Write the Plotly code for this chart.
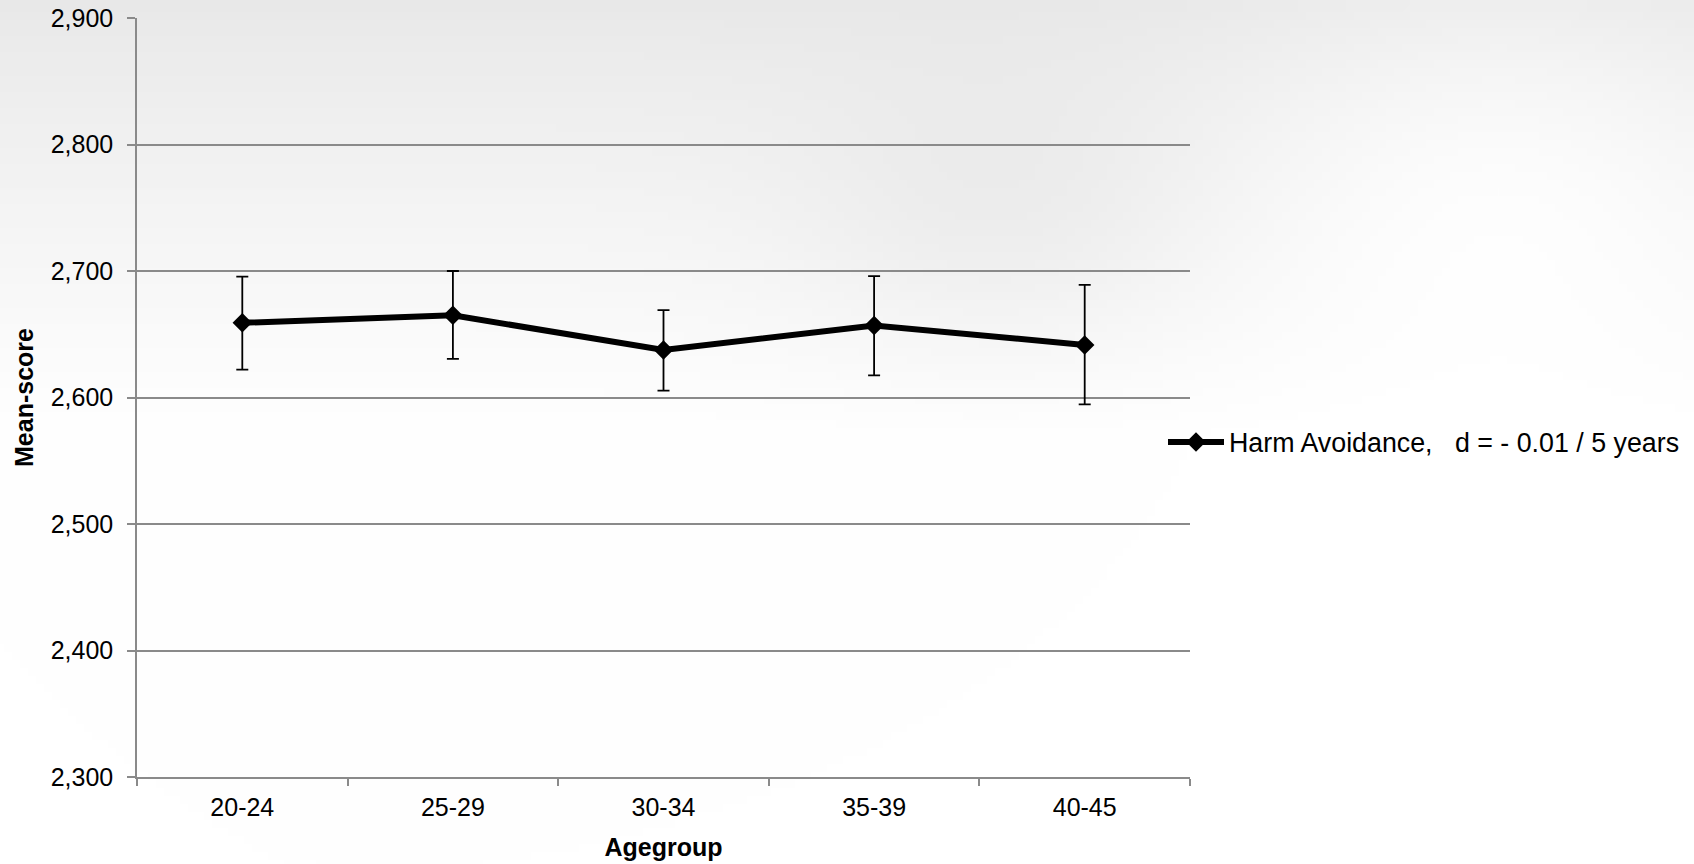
import zlib, struct, base64
import numpy as np
import plotly.graph_objects as go

# ---- data ----
agegroups = ["20-24", "25-29", "30-34", "35-39", "40-45"]
mean_score = [2659, 2665, 2637.5, 2657, 2641.5]
err_plus = [36.5, 35, 31.5, 39, 47.5]
err_minus = [37, 34.5, 32, 39.5, 47]
y_ticks = [2300, 2400, 2500, 2600, 2700, 2800, 2900]
series_name = "Harm Avoidance,\u00a0\u00a0\u00a0d = - 0.01 / 5 years"

# ---- geometry ----
W, H = 1694, 864
ML, MR, MT, MB = 137, 504, 18, 87
PW, PH = W - ML - MR, H - MT - MB

# ---- soft grey background (gradient, like the splash backdrop) ----
def make_png(arr):
    h, w = arr.shape
    raw = b"".join(b"\x00" + arr[i].astype(np.uint8).tobytes() for i in range(h))
    def chunk(t, d):
        c = struct.pack(">I", len(d)) + t + d
        return c + struct.pack(">I", zlib.crc32(t + d) & 0xffffffff)
    return (b"\x89PNG\r\n\x1a\n" + chunk(b"IHDR", struct.pack(">IIBBBBB", w, h, 8, 0, 0, 0, 0))
            + chunk(b"IDAT", zlib.compress(raw)) + chunk(b"IEND", b""))

gh, gw = 108, 212
yy = np.linspace(0, H, gh)[:, None]
xx = np.linspace(0, W, gw)[None, :]
t = np.clip(yy / 430.0, 0, 1)
base = 233 + 22 * t ** 0.9
bright = 10 * np.exp(-(((xx - 1500) / 260) ** 2 + ((yy - 150) / 200) ** 2))
darker = -8 * np.exp(-(((xx - 1000) / 200) ** 2 + ((yy - 220) / 140) ** 2))
img = np.clip(base + bright + darker + 0 * xx, 0, 255)
uri = "data:image/png;base64," + base64.b64encode(make_png(img)).decode()

fig = go.Figure()
fig.add_trace(go.Scatter(
    x=agegroups, y=mean_score, mode="lines+markers", name=series_name,
    line=dict(color="black", width=6),
    marker=dict(symbol="diamond", size=15, color="black"),
    error_y=dict(type="data", symmetric=False, array=err_plus, arrayminus=err_minus,
                 color="black", thickness=1.8, width=6),
))

font = "Liberation Sans, Arial, sans-serif"
fig.update_layout(
    width=W, height=H,
    margin=dict(l=ML, r=MR, t=MT, b=MB, autoexpand=False),
    paper_bgcolor="white", plot_bgcolor="rgba(0,0,0,0)",
    font=dict(family=font, size=25, color="black"),
    showlegend=True,
    legend=dict(x=(1163 - ML) / PW, xanchor="left", y=(H - MB - 442) / PH, yanchor="middle",
                bgcolor="rgba(0,0,0,0)", font=dict(size=26.8), itemwidth=56),
    images=[dict(source=uri, xref="paper", yref="paper", x=-ML / PW, y=1 + MT / PH,
                 sizex=W / PW, sizey=H / PH, xanchor="left", yanchor="top",
                 sizing="stretch", layer="below", opacity=1)],
)
fig.update_xaxes(
    type="category", range=[-0.5, 4.5], automargin=False,
    showline=True, linecolor="#8a8a8a", linewidth=1.5,
    ticks="outside", tickson="boundaries", ticklen=7, tickcolor="#8a8a8a", tickwidth=1.5,
    ticklabelstandoff=7,
    showgrid=False, zeroline=False,
    tickfont=dict(size=25),
    title=dict(text="<b>Agegroup</b>", font=dict(size=25), standoff=19),
)
fig.update_yaxes(
    range=[2300, 2900], tickvals=y_ticks, tickformat=",d", automargin=False,
    showline=True, linecolor="#8a8a8a", linewidth=1.5,
    ticks="outside", ticklen=8, tickcolor="#8a8a8a", tickwidth=1.5,
    ticklabelstandoff=9,
    showgrid=True, gridcolor="#8a8a8a", gridwidth=1.5, zeroline=False,
    tickfont=dict(size=25),
    title=dict(text="<b>Mean-score</b>", font=dict(size=25), standoff=10),
)
fig.write_html("out.html", config={"displayModeBar": False},
               post_script="document.body.style.margin='0';")
